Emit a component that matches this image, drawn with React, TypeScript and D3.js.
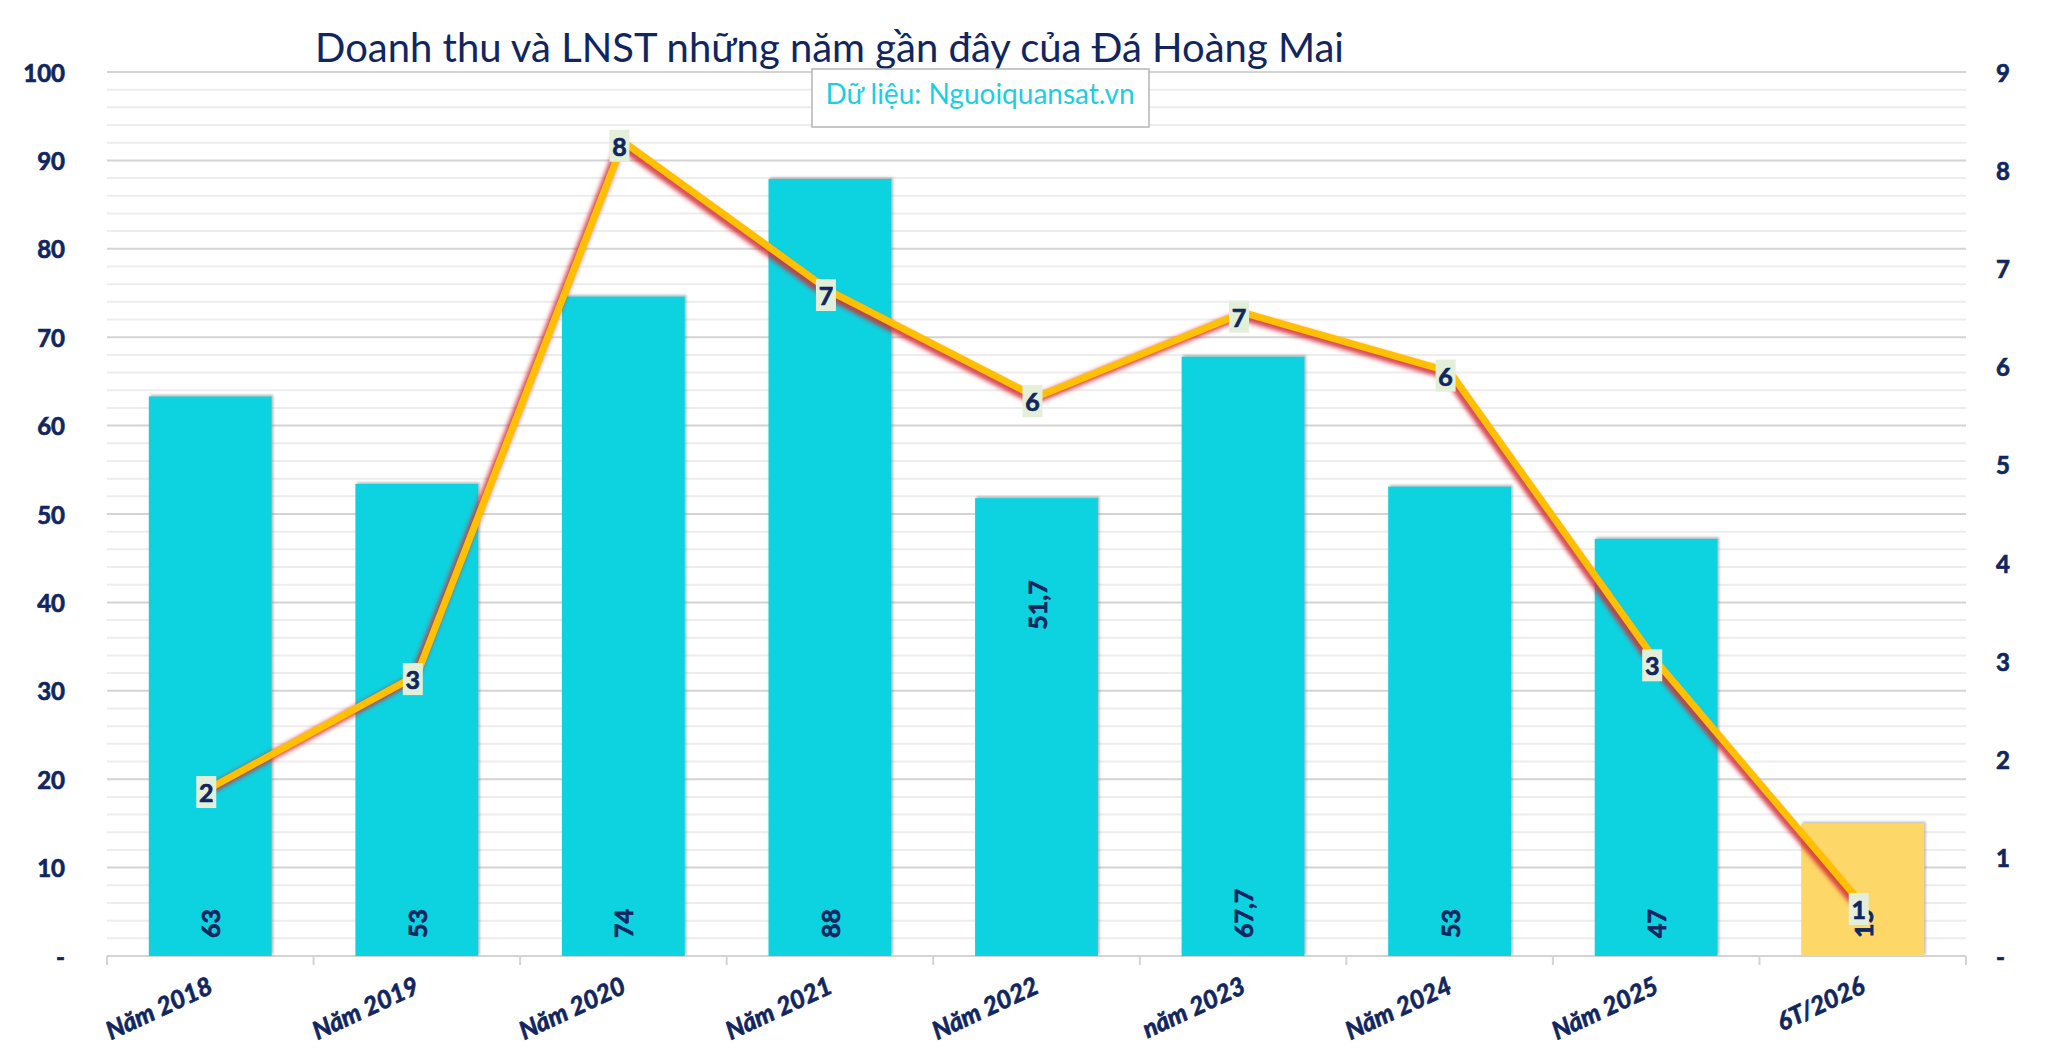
import * as d3 from "d3";
import { useEffect, useRef } from "react";

const categories = ["Năm 2018", "Năm 2019", "Năm 2020", "Năm 2021", "Năm 2022", "năm 2023", "Năm 2024", "Năm 2025", "6T/2026"];
const revenue = [63.3, 53.4, 74.6, 87.9, 51.8, 67.8, 53.1, 47.2, 15.0];
const revenueLabels = ["63", "53", "74", "88", "51,7", "67,7", "53", "47", "15"];
const profit = [1.71, 2.86, 8.29, 6.77, 5.69, 6.55, 5.95, 3.0, 0.52];
const profitLabels = ["2", "3", "8", "7", "6", "7", "6", "3", "1"];
const leftTicks = [0, 10, 20, 30, 40, 50, 60, 70, 80, 90, 100];
const rightTicks = [0, 1, 2, 3, 4, 5, 6, 7, 8, 9];
const minorTicks = d3.range(0, 101, 2);
// the 2022 label was dragged up in the original, sits at this revenue level
const movedLabel = { index: 4, atValue: 39.7 };

const title = "Doanh thu và LNST những năm gần đây của Đá Hoàng Mai";
const source = "Dữ liệu: Nguoiquansat.vn";

const navy = "#112660";
const font = "Lato, 'Open Sans', sans-serif";

const App = () => {
  const svgRef = useRef<SVGSVGElement | null>(null);
  const w = 2048;
  const h = 1050;
  const m = { top: 72, right: 82, bottom: 94, left: 107 };

  useEffect(() => {
    if (!svgRef.current) return;
    const svg = d3.select(svgRef.current);
    svg.selectAll("*").remove();
    svg.append("rect").attr("width", w).attr("height", h).attr("fill", "#fff");

    const x = d3.scaleBand<string>()
      .domain(categories)
      .range([m.left, w - m.right])
      .paddingInner(0.405)
      .paddingOuter(0.2025);
    const band = d3.scaleBand<string>().domain(categories).range([m.left, w - m.right]);
    const yL = d3.scaleLinear().domain([0, 100]).range([h - m.bottom, m.top]);
    const yR = d3.scaleLinear().domain([0, 9]).range([h - m.bottom, m.top]);

    // bold text in the original is heavier than Lato Bold, thicken a bit
    const boldText = (sel: any, size: number) => sel
      .attr("font-family", font).attr("font-weight", 700).attr("font-size", size)
      .attr("fill", navy).attr("stroke", navy).attr("stroke-width", 0.7);

    const defs = svg.append("defs");
    const blur = defs.append("filter").attr("id", "glow").attr("x", "-10%").attr("y", "-10%").attr("width", "120%").attr("height", "120%");
    blur.append("feGaussianBlur").attr("stdDeviation", 2.2);
    const shadow = defs.append("filter").attr("id", "barShadow").attr("x", "-10%").attr("y", "-10%").attr("width", "120%").attr("height", "120%");
    shadow.append("feDropShadow").attr("dx", 1.5).attr("dy", -1.5).attr("stdDeviation", 1)
      .attr("flood-color", "#777").attr("flood-opacity", 0.55);

    // gridlines
    svg.append("g").selectAll("line")
      .data(minorTicks.filter(d => d % 10 !== 0))
      .enter().append("line")
      .attr("x1", m.left).attr("x2", w - m.right)
      .attr("y1", d => yL(d)).attr("y2", d => yL(d))
      .attr("stroke", "#ededed").attr("stroke-width", 2);
    svg.append("g").selectAll("line")
      .data(leftTicks.filter(d => d > 0))
      .enter().append("line")
      .attr("x1", m.left).attr("x2", w - m.right)
      .attr("y1", d => yL(d)).attr("y2", d => yL(d))
      .attr("stroke", "#d4d4d4").attr("stroke-width", 2);

    // bottom axis line + ticks
    svg.append("line")
      .attr("x1", m.left).attr("x2", w - m.right)
      .attr("y1", yL(0)).attr("y2", yL(0))
      .attr("stroke", "#d4d4d4").attr("stroke-width", 2);
    svg.append("g").selectAll("line")
      .data(d3.range(categories.length + 1))
      .enter().append("line")
      .attr("x1", i => m.left + i * band.bandwidth()).attr("x2", i => m.left + i * band.bandwidth())
      .attr("y1", yL(0)).attr("y2", yL(0) + 9)
      .attr("stroke", "#d4d4d4").attr("stroke-width", 2);

    // bars
    svg.append("g").selectAll("rect")
      .data(revenue)
      .enter().append("rect")
      .attr("x", (d, i) => x(categories[i])!)
      .attr("y", d => yL(d))
      .attr("width", x.bandwidth())
      .attr("height", d => yL(0) - yL(d))
      .attr("fill", (d, i) => i === categories.length - 1 ? "#fdd867" : "#11d3e1")
      .attr("filter", "url(#barShadow)");

    // bar labels (rotated)
    svg.append("g").selectAll("text")
      .data(revenueLabels)
      .enter().append("text")
      .attr("transform", (d, i) => {
        const cx = x(categories[i])! + x.bandwidth() / 2;
        const cy = i === movedLabel.index ? yL(movedLabel.atValue) : yL(0) - 18;
        return `translate(${cx},${cy}) rotate(-90)`;
      })
      .attr("text-anchor", (d, i) => i === movedLabel.index ? "middle" : "start")
      .attr("dominant-baseline", "central")
      .call(boldText, 25)
      .text(d => d);

    // profit line
    const line = d3.line<number>()
      .x((d, i) => band(categories[i])! + band.bandwidth() / 2)
      .y(d => yR(d));
    svg.append("path")
      .datum(profit)
      .attr("d", line)
      .attr("transform", "translate(-3,3)")
      .attr("fill", "none")
      .attr("stroke", "#d42a36").attr("stroke-opacity", 0.85)
      .attr("stroke-width", 9)
      .attr("filter", "url(#glow)");
    svg.append("path")
      .datum(profit)
      .attr("d", line)
      .attr("fill", "none")
      .attr("stroke", "#ffc000")
      .attr("stroke-width", 7)
      .attr("stroke-linejoin", "round");

    const pl = svg.append("g").selectAll("g")
      .data(profit)
      .enter().append("g")
      .attr("transform", (d, i) => `translate(${band(categories[i])! + band.bandwidth() / 2 - 4},${yR(d) + 4})`);
    pl.append("rect")
      .attr("x", -10).attr("y", -16).attr("width", 20).attr("height", 32)
      .attr("fill", "#e3efd9");
    pl.append("text")
      .attr("text-anchor", "middle").attr("dominant-baseline", "central")
      .call(boldText, 25)
      .text((d, i) => profitLabels[i]);

    // left axis labels
    svg.append("g").selectAll("text")
      .data(leftTicks)
      .enter().append("text")
      .attr("x", 65).attr("y", d => yL(d))
      .attr("text-anchor", "end").attr("dominant-baseline", "central")
      .call(boldText, 24)
      .text(d => d === 0 ? "-" : String(d));

    // right axis labels
    svg.append("g").selectAll("text")
      .data(rightTicks)
      .enter().append("text")
      .attr("x", 1996).attr("y", d => yR(d))
      .attr("text-anchor", "start").attr("dominant-baseline", "central")
      .call(boldText, 24)
      .text(d => d === 0 ? "-" : String(d));

    // category labels
    svg.append("g").selectAll("text")
      .data(categories)
      .enter().append("text")
      .attr("transform", d => `translate(${band(d)! + band.bandwidth() / 2 + 4},${yL(0) + 36}) rotate(-25)`)
      .attr("text-anchor", "end")
      .attr("font-style", "italic")
      .call(boldText, 25)
      .text(d => d);

    // title
    svg.append("text")
      .attr("x", 315).attr("y", 62)
      .attr("font-family", font).attr("font-size", 40)
      .attr("fill", navy)
      .text(title);

    // source box
    svg.append("rect")
      .attr("x", 812).attr("y", 69).attr("width", 337).attr("height", 58)
      .attr("fill", "#fff").attr("stroke", "#b5b5b5").attr("stroke-width", 1.5);
    svg.append("text")
      .attr("x", 980).attr("y", 104)
      .attr("text-anchor", "middle")
      .attr("font-family", font).attr("font-size", 28)
      .attr("fill", "#1acfe0")
      .text(source);
  }, []);

  return (
    <svg ref={svgRef} width={w} height={h} viewBox={`0 0 ${w} ${h}`}
      style={{ position: "absolute", left: 0, top: 0, display: "block" }} />
  );
};

export default App;
